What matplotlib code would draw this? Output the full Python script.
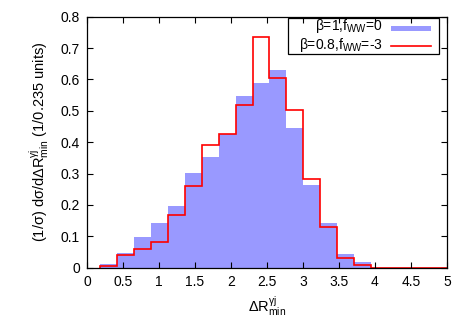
import numpy as np
import matplotlib
matplotlib.use("Agg")
import matplotlib.pyplot as plt
from matplotlib.patches import Rectangle
from matplotlib.lines import Line2D

plt.rcParams['font.family'] = ['Liberation Sans', 'DejaVu Sans']
plt.rcParams['mathtext.fontset'] = 'custom'
plt.rcParams['mathtext.rm'] = 'Liberation Sans'
plt.rcParams['mathtext.it'] = 'Liberation Sans:italic'
plt.rcParams['mathtext.sf'] = 'Liberation Sans'

bin_start = 0.185
bin_width = 0.235
blue_vals = [0.013, 0.047, 0.098, 0.141, 0.198, 0.303, 0.353, 0.427, 0.548, 0.589,
             0.629, 0.444, 0.264, 0.142, 0.044, 0.018, 0.0, 0.0, 0.0, 0.0, 0.0]
red_vals = [0.006, 0.041, 0.058, 0.082, 0.167, 0.259, 0.392, 0.427, 0.520, 0.734,
            0.605, 0.503, 0.283, 0.129, 0.031, 0.010, 0.0, 0.0, 0.0, 0.0, 0.0]
labels = [r'β=1,f$_{\mathrm{WW}}$=0', r'β=0.8,f$_{\mathrm{WW}}$=-3']
xticks = [0, 0.5, 1, 1.5, 2, 2.5, 3, 3.5, 4, 4.5, 5]
yticks = [0, 0.1, 0.2, 0.3, 0.4, 0.5, 0.6, 0.7, 0.8]

edges = bin_start + bin_width * np.arange(len(blue_vals) + 1)

fig = plt.figure(figsize=(4.69, 3.28), dpi=100)
ax = fig.add_axes([0.1855, 0.184, 0.7675, 0.765])

blue = '#9999ff'
red = '#ff0000'
ax.stairs(blue_vals, edges, fill=True, color=blue, linewidth=0)
ax.stairs(red_vals, edges, color=red, linewidth=1.2, baseline=0)

ax.set_xlim(0, 5)
ax.set_ylim(0, 0.8)
ax.set_xticks(xticks)
ax.set_xticklabels([f'{t:g}' for t in xticks])
ax.set_yticks(yticks)
ax.set_yticklabels([f'{t:g}' for t in yticks])
ax.tick_params(direction='in', length=4, width=0.8, top=True, right=True,
               labelsize=10, pad=5)
for s in ax.spines.values():
    s.set_linewidth(0.9)

ax.set_xlabel(r'ΔR$^{\mathrm{\gamma j}}_{\mathrm{min}}$', fontsize=10.5, labelpad=4)
ax.set_ylabel(r'(1/σ) dσ/dΔR$^{\mathrm{\gamma j}}_{\mathrm{min}}$ (1/0.235 units)',
              fontsize=10.5, labelpad=7)

# gnuplot-style key (text right-aligned, sample on the right)
T = ax.transAxes
ax.add_patch(Rectangle((0.558, 0.852), 0.42, 0.141, transform=T, fill=False,
                       edgecolor='black', linewidth=0.9, zorder=5))
ax.text(0.822, 0.948, labels[0], transform=T, ha='right', va='baseline',
        fontsize=10, zorder=6)
ax.text(0.822, 0.871, labels[1], transform=T, ha='right', va='baseline',
        fontsize=10, zorder=6)
ax.add_patch(Rectangle((0.844, 0.942), 0.112, 0.023, transform=T,
                       facecolor=blue, edgecolor='none', zorder=6))
ax.add_line(Line2D([0.844, 0.956], [0.884, 0.884], transform=T, color=red,
                   linewidth=1.2, zorder=6))

fig.savefig('out.png', dpi=100)
